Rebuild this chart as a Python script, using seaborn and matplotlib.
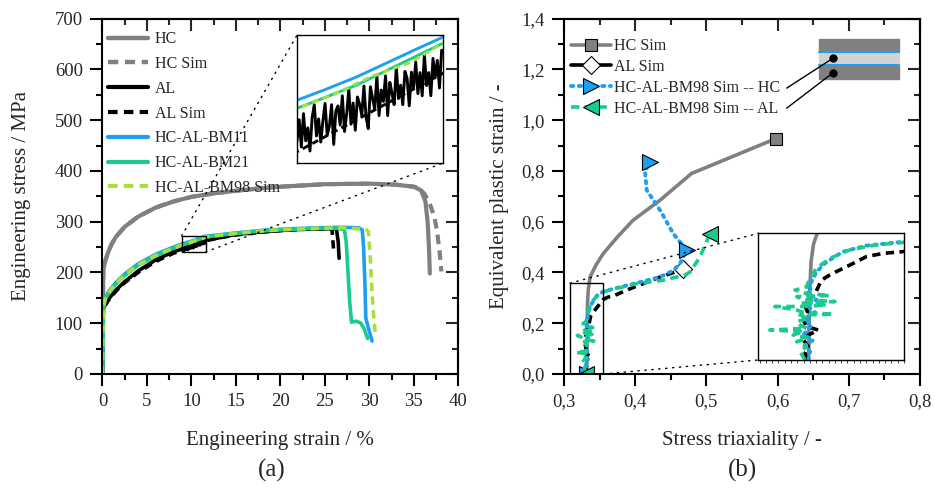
import numpy as np
import pandas as pd
import matplotlib
matplotlib.use("Agg")
import matplotlib.pyplot as plt
import seaborn as sns
from matplotlib.ticker import MultipleLocator, FuncFormatter
from matplotlib.lines import Line2D
from matplotlib.patches import Rectangle, ConnectionPatch

# ---------------- data: (a) engineering stress-strain ----------------
hc_strain = [0, 0.05, 0.1, 0.3, 0.6, 1, 1.5, 2.5, 4, 6, 8, 10, 13, 16, 20, 25, 30, 33, 35, 35.8, 36.3, 36.55, 36.7, 36.8]
hc_stress = [0, 150, 205, 222, 238, 255, 270, 290, 310, 328, 340, 349, 357, 363, 369, 374, 375, 373, 369, 362, 340, 300, 250, 198]

hcsim_strain = [0, 0.05, 0.1, 0.3, 0.6, 1, 1.5, 2.5, 4, 6, 8, 10, 13, 16, 20, 25, 30, 33, 35, 35.5, 36.2, 36.8, 37.3, 37.6, 37.9, 38.1]
hcsim_stress = [0, 150, 205, 222, 238, 255, 270, 290, 310, 328, 340, 349, 357, 363, 369, 374, 375, 373, 369, 367, 355, 335, 310, 283, 240, 202]

al_strain = [0, 0.05, 0.1, 0.3, 0.7, 1.5, 2.5, 4, 6, 8,
             8.90, 8.94, 8.98, 9.02, 9.06, 9.10, 9.14, 9.18, 9.22, 9.26, 9.30, 9.34, 9.38, 9.42,
             9.46, 9.50, 9.54, 9.58, 9.62, 9.66, 9.70, 9.74, 9.78, 9.82, 9.86, 9.90, 9.94, 9.98,
             10.02, 10.06, 10.10, 10.14, 10.18, 10.22, 10.26, 10.30, 10.34, 10.38, 10.42, 10.46,
             10.50, 10.54, 10.58, 10.62, 10.66, 10.70, 10.74, 10.78, 10.82, 10.86, 10.90, 10.94,
             10.98, 11.02, 11.06, 11.10, 11.14, 11.18, 11.22, 11.26, 11.30, 11.34, 11.38, 11.42,
             11.46, 11.50, 11.54, 11.58,
             12.2, 13, 15, 18, 21, 24, 26.3, 26.5, 26.6]
al_stress = [0, 80, 128, 137, 148, 165, 182, 203, 225, 241,
             246.0, 251.2, 244.5, 252.7, 246.0, 249.2, 243.5, 251.7, 254.9, 247.2, 251.4, 245.7, 250.9, 255.2,
             247.4, 249.6, 254.9, 245.1, 253.4, 254.6, 249.9, 257.1, 248.3, 252.6, 258.8, 250.1, 255.3, 248.6,
             256.8, 255.0, 252.3, 259.5, 251.8, 249.0, 259.3, 256.5, 253.7, 262.0, 252.2, 258.5,
             255.7, 262.0, 252.2, 260.4, 257.7, 254.9, 264.2, 256.4, 259.7, 254.9, 263.1, 261.4,
             254.6, 262.9, 259.1, 265.4, 257.6, 262.8, 257.1, 267.3, 259.6, 262.8, 257.1, 266.3,
             261.5, 265.8, 259.0, 268.3,
             265, 268, 275, 280, 284, 286, 286, 260, 228]

alsim_strain = [0, 0.1, 0.3, 0.7, 1.5, 2.5, 4, 6, 8, 8.9, 11.6, 13, 15, 18, 21, 24, 25.8, 26.0]
alsim_stress = [0, 125, 135, 146, 163, 180, 200, 222, 238, 243.3, 262.6, 268, 274, 280, 284, 286, 286, 240]

bm11_strain = [0, 0.05, 0.1, 0.3, 0.7, 1.5, 2.5, 4, 6, 8, 8.9, 9.4, 10.0, 10.6, 11.2, 11.6, 13, 15, 18, 21, 24, 27, 28.8, 29.2, 29.35, 29.5, 29.6, 29.9, 30.3]
bm11_stress = [0, 60, 130, 150, 163, 180, 197, 217, 236, 250, 256.0, 258.5, 261.7, 265.4, 269.1, 271.5, 274, 278, 283, 286, 288, 289, 288, 284, 250, 180, 110, 90, 65]

bm21_strain = [0, 0.05, 0.1, 0.3, 0.7, 1.5, 2.5, 4, 6, 8, 8.9, 10.0, 11.6, 13, 15, 18, 21, 24, 26.5, 27.2, 27.4, 27.6, 27.8, 28.0, 28.5, 29.0, 29.4, 29.8]
bm21_stress = [0, 60, 128, 147, 160, 177, 194, 214, 233, 248, 254.0, 259.7, 270.0, 273, 277, 282, 285, 287, 287, 284, 260, 200, 140, 102, 104, 101, 90, 70]

bm98_strain = [0, 0.05, 0.1, 0.3, 0.7, 1.5, 2.5, 4, 6, 8, 8.9, 9.6, 10.3, 11.0, 11.6, 13, 15, 18, 21, 24, 27, 29.6, 29.9, 30.1, 30.3, 30.5, 30.65]
bm98_stress = [0, 60, 129, 148, 161, 178, 195, 215, 234, 248, 254.0, 257.5, 262.0, 265.3, 270.0, 273, 277, 282, 285, 287, 288, 285, 280, 230, 160, 110, 83]

# ---------------- data: (b) triaxiality vs plastic strain ----------------
hcs_triax = [0.332, 0.3322, 0.3325, 0.333, 0.334, 0.3365, 0.345, 0.355, 0.375, 0.397, 0.435, 0.479, 0.598]
hcs_peeq = [0.0, 0.10, 0.20, 0.28, 0.33, 0.382, 0.43, 0.474, 0.54, 0.606, 0.685, 0.79, 0.928]

als_triax = [0.3312, 0.3306, 0.3319, 0.3299, 0.3319, 0.3359, 0.3312, 0.3299, 0.3319, 0.3306, 0.3319,
             0.3346, 0.3359, 0.3372, 0.3405, 0.3485, 0.3551, 0.3618, 0.3697, 0.3927, 0.4348, 0.4667]
als_peeq = [0.0, 0.019, 0.038, 0.057, 0.071, 0.085, 0.095, 0.114, 0.133, 0.152, 0.171,
            0.189, 0.208, 0.227, 0.242, 0.270, 0.294, 0.303, 0.308, 0.336, 0.382, 0.412]

bmhc_triax = [0.3319, 0.3326, 0.3306, 0.3339, 0.3299, 0.3332, 0.3306, 0.3346, 0.3312, 0.3352, 0.3306,
              0.3332, 0.3319, 0.3332, 0.3352, 0.3392, 0.3458, 0.3551, 0.3697, 0.4067, 0.4348, 0.4535,
              0.4629, 0.4723, 0.4535, 0.4348, 0.4161, 0.4138, 0.4208]
bmhc_peeq = [0.0, 0.0237, 0.0426, 0.0568, 0.0711, 0.0995, 0.118, 0.135, 0.156, 0.171, 0.185,
             0.199, 0.208, 0.223, 0.251, 0.279, 0.308, 0.325, 0.336, 0.362, 0.382, 0.408,
             0.435, 0.487, 0.553, 0.646, 0.7245, 0.797, 0.836]

bmal_triax = [0.3306, 0.3286, 0.3312, 0.3273, 0.3319, 0.3259, 0.3299, 0.3166, 0.3312, 0.3286, 0.3273,
              0.3319, 0.3286, 0.3419, 0.3299, 0.3273, 0.3186, 0.3299, 0.3392, 0.3286, 0.3425, 0.3299,
              0.3273, 0.3405, 0.3312, 0.3266, 0.3299, 0.3312, 0.3326, 0.3352, 0.3405, 0.3485, 0.3591,
              0.3697, 0.40, 0.44, 0.47, 0.477, 0.491, 0.505]
bmal_peeq = [0.0, 0.0237, 0.0379, 0.0521, 0.0616, 0.0711, 0.0805, 0.0853, 0.09, 0.0995, 0.109,
             0.118, 0.128, 0.130, 0.135, 0.142, 0.152, 0.152, 0.156, 0.161, 0.166, 0.171,
             0.180, 0.183, 0.189, 0.199, 0.204, 0.208, 0.232, 0.261, 0.289, 0.313, 0.327,
             0.334, 0.355, 0.37, 0.39, 0.402, 0.461, 0.553]

left_labels = ["HC", "HC Sim", "AL", "AL Sim", "HC-AL-BM11", "HC-AL-BM21", "HC-AL-BM98 Sim"]
right_labels = ["HC Sim", "AL Sim", "HC-AL-BM98 Sim -- HC", "HC-AL-BM98 Sim -- AL"]

# ---------------- style ----------------
sns.set_theme(style="ticks")
plt.rcParams["font.family"] = ["Liberation Serif", "DejaVu Serif"]

GRAY = "#808080"
BLUE = "#1E9FF2"
GREEN = "#19CC8C"
LGREEN = "#A6E03A"

DASH = (0, (2.3, 1.5))
DOT = (0, (0.6, 1.4))

fig = plt.figure(figsize=(9.34, 4.93), dpi=100)
ax1 = fig.add_axes([0.1097, 0.2414, 0.381, 0.7206])
ax2 = fig.add_axes([0.6039, 0.2414, 0.381, 0.7206])


def line(ax, x, y, **kw):
    df = pd.DataFrame({"x": x, "y": y})
    sns.lineplot(data=df, x="x", y="y", sort=False, estimator=None, ax=ax, legend=False, **kw)


def style_axes(ax, xmaj, xmin, ymaj, ymin, fmt=None):
    for s in ax.spines.values():
        s.set_linewidth(1.5)
        s.set_color("black")
    ax.xaxis.set_major_locator(MultipleLocator(xmaj))
    ax.xaxis.set_minor_locator(MultipleLocator(xmin))
    ax.yaxis.set_major_locator(MultipleLocator(ymaj))
    ax.yaxis.set_minor_locator(MultipleLocator(ymin))
    ax.tick_params(which="both", direction="out", top=False, right=False, width=1.5, color="black")
    ax.tick_params(which="major", length=8.5, labelsize=13.5, pad=5.5)
    ax.tick_params(which="minor", length=4.3)
    if fmt is not None:
        ax.xaxis.set_major_formatter(fmt)
        ax.yaxis.set_major_formatter(fmt)
    sx = ax.secondary_xaxis("top")
    sx.xaxis.set_major_locator(MultipleLocator(xmaj))
    sx.xaxis.set_minor_locator(MultipleLocator(xmin))
    sx.tick_params(which="both", direction="in", labeltop=False, width=1.5)
    sx.tick_params(which="major", length=8.5)
    sx.tick_params(which="minor", length=4.3)
    sy = ax.secondary_yaxis("right")
    sy.yaxis.set_major_locator(MultipleLocator(ymaj))
    sy.yaxis.set_minor_locator(MultipleLocator(ymin))
    sy.tick_params(which="both", direction="in", labelright=False, width=1.5)
    sy.tick_params(which="major", length=8.5)
    sy.tick_params(which="minor", length=4.3)
    for s in list(sx.spines.values()) + list(sy.spines.values()):
        s.set_linewidth(1.5)


# ================= panel (a) =================
def draw_a(ax, lw_scale=1.0):
    line(ax, hc_strain, hc_stress, color=GRAY, linewidth=3.0 * lw_scale)
    line(ax, hcsim_strain, hcsim_stress, color=GRAY, linewidth=3.0 * lw_scale, linestyle=DASH)
    line(ax, al_strain, al_stress, color="black", linewidth=2.6 * lw_scale)
    line(ax, alsim_strain, alsim_stress, color="black", linewidth=2.6 * lw_scale, linestyle=DASH)
    line(ax, bm11_strain, bm11_stress, color=BLUE, linewidth=2.6 * lw_scale)
    line(ax, bm21_strain, bm21_stress, color=GREEN, linewidth=2.6 * lw_scale)
    line(ax, bm98_strain, bm98_stress, color=LGREEN, linewidth=2.6 * lw_scale, linestyle=DASH)


draw_a(ax1)
ax1.set_xlim(0, 40)
ax1.set_ylim(0, 700)
style_axes(ax1, 5, 2.5, 100, 50)
ax1.set_xlabel("Engineering strain / %", fontsize=15)
ax1.set_ylabel("Engineering stress / MPa", fontsize=15)
ax1.xaxis.set_label_coords(0.5, -0.16)
ax1.yaxis.set_label_coords(-0.2, 0.5)

hl = [Line2D([], [], color=GRAY, lw=3.2),
      Line2D([], [], color=GRAY, lw=3.2, linestyle=DASH),
      Line2D([], [], color="black", lw=3.0),
      Line2D([], [], color="black", lw=3.0, linestyle=DASH),
      Line2D([], [], color=BLUE, lw=3.0),
      Line2D([], [], color=GREEN, lw=3.0),
      Line2D([], [], color=LGREEN, lw=3.0, linestyle=DASH)]
ax1.legend(hl, left_labels, loc="upper left", bbox_to_anchor=(0.015, 0.965), frameon=False,
           fontsize=11.5, handlelength=2.5, handletextpad=0.45, labelspacing=0.55, borderpad=0,
           borderaxespad=0)

# inset (a)
ax1.add_patch(Rectangle((8.9, 240.5), 2.7, 31.5, fill=False, ec="black", lw=1.0, zorder=5))
axi1 = fig.add_axes([0.318, 0.669, 0.156, 0.2596])
draw_a(axi1, 0.8)
axi1.set_xlim(8.9, 11.6)
axi1.set_ylim(240.5, 272)
axi1.set_xlabel("")
axi1.set_ylabel("")
axi1.set_xticks([])
axi1.set_yticks([])
for s in axi1.spines.values():
    s.set_linewidth(1.0)
    s.set_color("black")
for (xa, ya), (xb, yb) in [((8.9, 272), (0, 1)), ((11.6, 240.5), (1, 0))]:
    cp = ConnectionPatch(xyA=(xa, ya), coordsA=ax1.transData, xyB=(xb, yb), coordsB=axi1.transAxes,
                         color="black", lw=1.0, linestyle=(0, (1, 4)))
    fig.add_artist(cp)

# ================= panel (b) =================
comma = FuncFormatter(lambda v, p: f"{v:.1f}".replace(".", ","))


def draw_b(ax, markers=True):
    line(ax, hcs_triax, hcs_peeq, color=GRAY, linewidth=2.6,
         **(dict(marker="s", markersize=9, markerfacecolor=GRAY, markeredgecolor="black",
                 markeredgewidth=0.8, markevery=[len(hcs_triax) - 1]) if markers else {}))
    line(ax, als_triax, als_peeq, color="black", linewidth=2.6, linestyle=DASH,
         **(dict(marker="D", markersize=9, markerfacecolor="white", markeredgecolor="black",
                 markeredgewidth=0.8, markevery=[len(als_triax) - 1]) if markers else {}))
    line(ax, bmhc_triax, bmhc_peeq, color=BLUE, linewidth=2.8, linestyle=DOT, dash_capstyle="round",
         **(dict(marker=">", markersize=12, markerfacecolor=BLUE, markeredgecolor="black",
                 markeredgewidth=0.8, markevery=[0, 23, len(bmhc_triax) - 1]) if markers else {}))
    line(ax, bmal_triax, bmal_peeq, color=GREEN, linewidth=2.6, linestyle=DASH,
         **(dict(marker="<", markersize=12, markerfacecolor=GREEN, markeredgecolor="black",
                 markeredgewidth=0.8, markevery=[0, len(bmal_triax) - 1]) if markers else {}))


draw_b(ax2)
ax2.set_xlim(0.3, 0.8)
ax2.set_ylim(0, 1.4)
style_axes(ax2, 0.1, 0.05, 0.2, 0.1, comma)
ax2.set_xlabel("Stress triaxiality / -", fontsize=15)
ax2.set_ylabel("Equivalent plastic strain / -", fontsize=15)
ax2.xaxis.set_label_coords(0.5, -0.16)
ax2.yaxis.set_label_coords(-0.155, 0.5)

hr = [Line2D([], [], color=GRAY, lw=2.6, marker="s", markersize=9, markerfacecolor=GRAY,
             markeredgecolor="black", markeredgewidth=0.8),
      Line2D([], [], color="black", lw=2.6, marker="D", markersize=9, markerfacecolor="white",
             markeredgecolor="black", markeredgewidth=0.8),
      Line2D([], [], color=BLUE, lw=2.8, linestyle=DOT, dash_capstyle="round", marker=">",
             markersize=12, markerfacecolor=BLUE, markeredgecolor="black", markeredgewidth=0.8),
      Line2D([], [], color=GREEN, lw=2.6, linestyle=DASH, marker="<", markersize=12,
             markerfacecolor=GREEN, markeredgecolor="black", markeredgewidth=0.8)]
ax2.legend(hr, right_labels, loc="upper left", bbox_to_anchor=(0.02, 0.945), frameon=False,
           fontsize=11.5, handlelength=2.5, handletextpad=0.2, labelspacing=0.3, borderpad=0,
           borderaxespad=0)

# layer schematic
x0, x1 = 0.6586, 0.7709
ax2.add_patch(Rectangle((x0, 1.270), x1 - x0, 0.050, color=GRAY, zorder=4))
ax2.add_patch(Rectangle((x0, 1.219), x1 - x0, 0.051, color="#D3D3D3", zorder=4))
ax2.add_patch(Rectangle((x0, 1.162), x1 - x0, 0.057, color=GRAY, zorder=4))
ax2.plot([x0, x1], [1.270, 1.270], color=BLUE, lw=1.5, zorder=5)
ax2.plot([x0, x1], [1.219, 1.219], color=BLUE, lw=1.5, zorder=5)
ax2.plot([0.6774, 0.6128], [1.2435, 1.1265], color="black", lw=1.0, zorder=6)
ax2.plot([0.6774, 0.6128], [1.186, 1.0474], color="black", lw=1.0, zorder=6)
ax2.plot([0.6774, 0.6774], [1.2435, 1.186], linestyle="none", marker="o", markersize=5,
         color="black", zorder=7)

# inset (b)
ax2.add_patch(Rectangle((0.3084, 0.0), 0.0468, 0.358, fill=False, ec="black", lw=1.0, zorder=5))
axi2 = fig.add_axes([0.8119, 0.2698, 0.156, 0.257])
draw_b(axi2, markers=False)
axi2.set_xlim(0.312, 0.370)
axi2.set_ylim(0, 0.36)
axi2.set_xlabel("")
axi2.set_ylabel("")
axi2.xaxis.set_major_locator(MultipleLocator(0.0025))
axi2.tick_params(axis="x", direction="out", length=2, width=0.6, labelbottom=False)
axi2.set_yticks([])
for s in axi2.spines.values():
    s.set_linewidth(1.0)
    s.set_color("black")
for (xa, ya), (xb, yb) in [((0.3084, 0.358), (0, 1)), ((0.3552, 0.0), (0, 0))]:
    cp = ConnectionPatch(xyA=(xa, ya), coordsA=ax2.transData, xyB=(xb, yb), coordsB=axi2.transAxes,
                         color="black", lw=1.0, linestyle=(0, (1, 4)))
    fig.add_artist(cp)

fig.text(0.2905, 0.045, "(a)", ha="center", va="center", fontsize=18)
fig.text(0.7945, 0.045, "(b)", ha="center", va="center", fontsize=18)

fig.savefig("out.png", dpi=100)
